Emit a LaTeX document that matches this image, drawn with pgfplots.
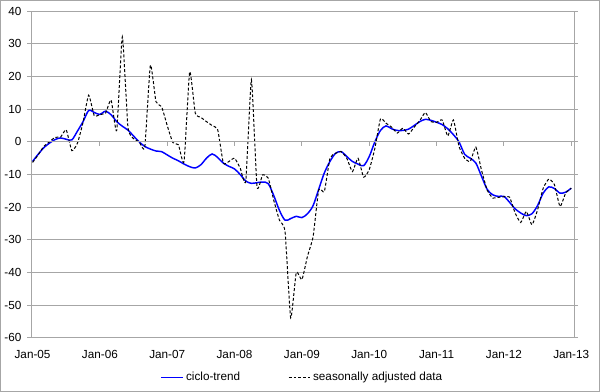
\documentclass[border=0pt]{standalone}
\usepackage{pgfplots}
\pgfplotsset{compat=1.18}
\usepackage{fontspec}
\setmainfont{Liberation Sans}
\definecolor{gridgray}{RGB}{166,166,166}
\definecolor{trendblue}{RGB}{0,0,255}
\begin{document}
\begin{tikzpicture}
\begin{axis}[
  name=ax,
  scale only axis,
  width=407.25pt, height=245pt,
  xmin=-0.2, xmax=96.5,
  ymin=-60, ymax=40,
  ytick={-60,-50,...,40},
  xtick={0,12,...,96},
  xticklabels={Jan-05,Jan-06,Jan-07,Jan-08,Jan-09,Jan-10,Jan-11,Jan-12,Jan-13},
  ymajorgrids,
  grid style={gridgray, line width=0.75pt},
  axis line style={gridgray, line width=0.75pt},
  x tick style={draw=none},
  y tick style={gridgray, line width=0.75pt},
  tick align=outside,
  major tick length=3pt,
  tick label style={font=\fontsize{8.8}{10}\selectfont},
  /pgf/number format/assume math mode=true,
  xticklabel style={yshift=-3pt},
  yticklabel style={xshift=-1pt},
  clip=false,
  legend style={draw=none, fill=none, at={(0.5,0)}, anchor=center, yshift=-30pt,
    font=\fontsize{8.8}{10}\selectfont, legend columns=2,
    /tikz/every even column/.append style={column sep=34pt}},
  legend image code/.code={\draw[#1] (0pt,0pt) -- (16pt,0pt);},
]
\addplot[trendblue, line width=1.1pt, smooth] coordinates {
(0,-6.0) (1,-3.8) (2,-1.8) (3,-0.4) (4,0.7) (5,1.2) (6,0.8) (7,0.6) (8,3.3) (9,6.2)
(10,9.6) (11,9.0) (12,8.4) (13,9.4) (14,8.3) (15,6.2) (16,4.8) (17,3.6) (18,1.8) (19,0.0)
(20,-1.4) (21,-2.2) (22,-2.8) (23,-3.0) (24,-4.0) (25,-5.0) (26,-5.8) (27,-6.8) (28,-7.6) (29,-8.0)
(30,-7.0) (31,-5.0) (32,-3.7) (33,-4.8) (34,-6.5) (35,-7.5) (36,-8.3) (37,-10.0) (38,-12.0) (39,-12.7)
(40,-12.5) (41,-12.3) (42,-12.8) (43,-16.5) (44,-21.0) (45,-24.0) (46,-23.5) (47,-22.8) (48,-23.2) (49,-22.0)
(50,-19.5) (51,-14.5) (52,-9.5) (53,-6.0) (54,-3.5) (55,-3.0) (56,-4.5) (57,-6.0) (58,-6.8) (59,-7.3)
(60,-4.5) (61,0.0) (62,3.5) (63,4.9) (64,4.0) (65,3.5) (66,3.5) (67,3.9) (68,5.0) (69,6.2)
(70,6.9) (71,6.6) (72,6.0) (73,5.3) (74,4.0) (75,2.2) (76,0.0) (77,-3.8) (78,-5.0) (79,-6.5)
(80,-10.5) (81,-14.5) (82,-16.2) (83,-16.7) (84,-16.7) (85,-18.5) (86,-20.5) (87,-21.8) (88,-22.6) (89,-22.0)
(90,-19.5) (91,-15.7) (92,-13.8) (93,-14.3) (94,-15.7) (95,-15.4) (96,-14.2)
};
\addlegendentry{ciclo-trend}
\addplot[black, line width=0.75pt, dash pattern=on 2.2pt off 1.5pt, smooth, tension=0.3] coordinates {
(0,-6.3) (1,-4.0) (2,-1.4) (3,0.0) (4,1.4) (5,1.5) (6,3.7) (7,-2.7) (8,-0.4) (9,6.0)
(10,14.3) (11,8.0) (12,8.4) (13,8.8) (14,12.8) (15,3.5) (16,32.2) (17,4.5) (18,1.0) (19,0.0)
(20,-1.6) (21,23.5) (22,12.3) (23,10.8) (24,5.0) (25,-0.2) (26,-0.9) (27,-6.0) (28,21.5) (29,8.8)
(30,7.5) (31,6.2) (32,5.0) (33,3.7) (34,-6.5) (35,-6.0) (36,-5.0) (37,-8.0) (38,-12.0) (39,19.0)
(40,-13.7) (41,-10.1) (42,-11.1) (43,-18.0) (44,-24.0) (45,-27.5) (46,-53.9) (47,-40.0) (48,-42.2) (49,-35.0)
(50,-29.0) (51,-14.7) (52,-15.2) (53,-5.0) (54,-3.5) (55,-3.0) (56,-5.0) (57,-9.1) (58,-5.0) (59,-10.8)
(60,-8.5) (61,-2.0) (62,7.0) (63,5.7) (64,4.5) (65,2.7) (66,4.2) (67,2.4) (68,4.5) (69,6.5)
(70,9.0) (71,6.2) (72,6.0) (73,6.7) (74,1.8) (75,6.7) (76,-1.4) (77,-5.0) (78,-6.0) (79,-1.6)
(80,-8.6) (81,-14.7) (82,-17.2) (83,-17.0) (84,-16.8) (85,-16.9) (86,-21.8) (87,-24.7) (88,-21.3) (89,-25.4)
(90,-20.8) (91,-14.2) (92,-11.4) (93,-13.1) (94,-19.8) (95,-15.7) (96,-14.2)
};
\addlegendentry{seasonally adjusted data}
\draw[gridgray, line width=0.75pt] (axis cs:-0.2,0) -- (axis cs:96.5,0);
\pgfplotsinvokeforeach{12,24,36,48,60,72,84,96}{
  \draw[gridgray, line width=0.75pt] (axis cs:#1,0) -- ++(0pt,-3pt);
}
\end{axis}
\draw[gridgray, line width=0.75pt]
  ([xshift=-22.9pt,yshift=-40.1pt]ax.south west) rectangle
  ([xshift=19.1pt,yshift=8.1pt]ax.north east);
\end{tikzpicture}
\end{document}
